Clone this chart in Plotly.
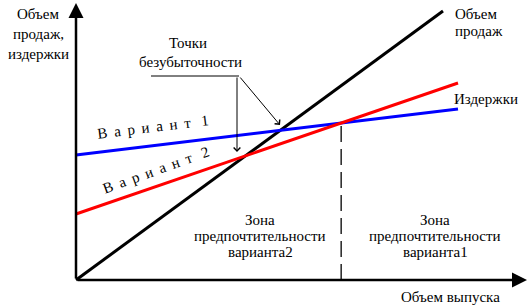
import plotly.graph_objects as go

# ---- data (units: output volume on x, money on y) ----
sales_x = [0, 367]
sales_y = [0, 269]
var1_x = [0, 382]
var1_y = [125, 171]
var2_x = [0, 382]
var2_y = [66, 197]


def coef(xs, ys):
    m = (ys[1] - ys[0]) / (xs[1] - xs[0])
    return m, ys[0] - m * xs[0]


m1, b1 = coef(var1_x, var1_y)
m2, b2 = coef(var2_x, var2_y)
xi = (b2 - b1) / (m1 - m2)
yi = m1 * xi + b1

FONT = dict(family="Liberation Serif, Times New Roman, serif", size=15, color="black")

fig = go.Figure()
fig.add_trace(go.Scatter(x=sales_x, y=sales_y, mode="lines",
                         line=dict(color="black", width=3)))
fig.add_trace(go.Scatter(x=var1_x, y=var1_y, mode="lines",
                         line=dict(color="#0000FF", width=3)))
fig.add_trace(go.Scatter(x=var2_x, y=var2_y, mode="lines",
                         line=dict(color="#FF0000", width=3)))
fig.add_trace(go.Scatter(x=[xi, xi], y=[0, yi], mode="lines",
                         line=dict(color="black", width=1.3, dash="16px,7px")))

ann = []
# axes with arrows
ann.append(dict(x=451, y=0, ax=0, ay=0, axref="x", ayref="y", xref="x", yref="y",
                text="", showarrow=True, arrowhead=2, arrowsize=1.2, arrowwidth=2.5,
                arrowcolor="black", standoff=0, startstandoff=0))
ann.append(dict(x=0, y=277, ax=0, ay=0, axref="x", ayref="y", xref="x", yref="y",
                text="", showarrow=True, arrowhead=2, arrowsize=1.2, arrowwidth=2.5,
                arrowcolor="black", standoff=0, startstandoff=0))
# break-even pointer
ann.append(dict(x=161, y=128, ax=161, ay=204, axref="x", ayref="y", xref="x", yref="y",
                text="", showarrow=True, arrowhead=4, arrowsize=1.3, arrowwidth=1,
                arrowcolor="black"))
ann.append(dict(x=204, y=155, ax=163, ay=204, axref="x", ayref="y", xref="x", yref="y",
                text="", showarrow=True, arrowhead=4, arrowsize=1.3, arrowwidth=1,
                arrowcolor="black"))

G = "\u00a0\u2009"
v1 = G.join(list("Вариант")) + G + "\u00a0" + "1"
v2 = G.join(list("Вариант")) + G + "\u00a0" + "2"

texts = [
    ("Объем", -38, 266, "center", 0),
    ("продаж,", -38, 246, "center", 0),
    ("издержки", -38, 226, "center", 0),
    ("Объем", 377, 266, "left", 0),
    ("продаж", 377, 249, "left", 0),
    ("Издержки", 376, 181, "left", 0),
    ("Точки", 112, 237, "center", 0),
    ("безубыточности", 114, 218, "center", 0),
    ("Зона", 184, 60, "center", 0),
    ("предпочтительности", 184, 44, "center", 0),
    ("варианта2", 184, 28, "center", 0),
    ("Зона", 359, 60, "center", 0),
    ("предпочтительности", 359, 44, "center", 0),
    ("варианта1", 359, 28, "center", 0),
    ("Объем выпуска", 374, -17, "center", 0),
    (v1, 77, 153, "center", -7),
    (v2, 80, 110, "center", -20),
]
for t, x, y, anc, ang in texts:
    ann.append(dict(x=x, y=y, xref="x", yref="y", text=t, showarrow=False,
                    xanchor=anc, yanchor="middle", textangle=ang, font=FONT))

fig.update_layout(
    width=531, height=308,
    margin=dict(l=0, r=0, t=0, b=0),
    paper_bgcolor="white", plot_bgcolor="white",
    showlegend=False,
    xaxis=dict(visible=False, range=[-76, 455], fixedrange=True),
    yaxis=dict(visible=False, range=[-28, 280], fixedrange=True),
    annotations=ann,
    shapes=[dict(type="line", xref="x", yref="y", x0=75, x1=163, y0=204, y1=204,
                 line=dict(color="black", width=1))],
)

fig.write_html("out.html")
